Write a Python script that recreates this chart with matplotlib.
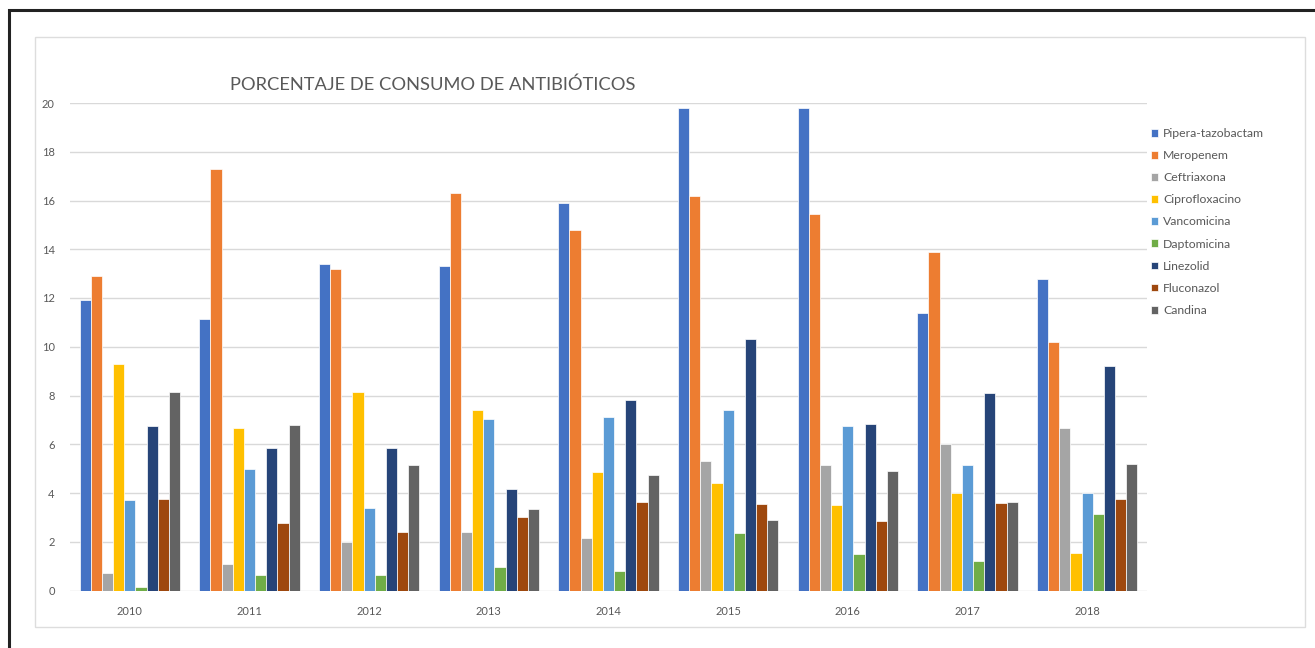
import numpy as np
import matplotlib.pyplot as plt
from matplotlib.patches import Rectangle

plt.rcParams['font.family'] = ['Lato', 'DejaVu Sans']

years = ['2010', '2011', '2012', '2013', '2014', '2015', '2016', '2017', '2018']
drugs = ['Pipera-tazobactam', 'Meropenem', 'Ceftriaxona', 'Ciprofloxacino',
         'Vancomicina', 'Daptomicina', 'Linezolid', 'Fluconazol', 'Candina']

pipera = [11.9, 11.15, 13.4, 13.3, 15.9, 19.8, 19.8, 11.4, 12.8]
meropenem = [12.9, 17.3, 13.2, 16.3, 14.8, 16.2, 15.45, 13.9, 10.2]
ceftriaxona = [0.7, 1.1, 2.0, 2.4, 2.15, 5.3, 5.15, 6.0, 6.65]
cipro = [9.3, 6.65, 8.15, 7.4, 4.85, 4.4, 3.5, 4.0, 1.55]
vanco = [3.7, 5.0, 3.4, 7.05, 7.1, 7.4, 6.75, 5.15, 4.0]
dapto = [0.15, 0.65, 0.65, 0.95, 0.8, 2.35, 1.5, 1.2, 3.15]
linezolid = [6.75, 5.85, 5.85, 4.15, 7.8, 10.3, 6.85, 8.1, 9.2]
fluconazol = [3.75, 2.75, 2.4, 3.0, 3.65, 3.55, 2.85, 3.6, 3.75]
candina = [8.15, 6.8, 5.15, 3.35, 4.75, 2.9, 4.9, 3.65, 5.2]

series = [pipera, meropenem, ceftriaxona, cipro, vanco, dapto, linezolid, fluconazol, candina]
colors = ['#4472C4', '#ED7D31', '#A5A5A5', '#FFC000', '#5B9BD5',
          '#70AD47', '#264478', '#9E480E', '#636363']

fig = plt.figure(figsize=(13.15, 6.48), dpi=100)

# outer dark frame and light chart-area border
fig.add_artist(Rectangle((9 / 1315, -0.1), 1.2, (648 - 10) / 648 + 0.1,
                         transform=fig.transFigure, fill=False,
                         edgecolor='#222222', linewidth=2.2))
fig.add_artist(Rectangle((35 / 1315, (648 - 627) / 648), 1270 / 1315, 590 / 648,
                         transform=fig.transFigure, fill=False,
                         edgecolor='#DDDDDD', linewidth=1.0))

ax = fig.add_axes([70 / 1315, (648 - 590.5) / 648, 1077 / 1315, 487.5 / 648])

x = np.arange(len(years))
n = len(series)
bw = 0.84 / n
for i, (vals, c, name) in enumerate(zip(series, colors, drugs)):
    ax.bar(x - 0.42 + bw * (i + 0.5), vals, width=bw, color=c,
           edgecolor='white', linewidth=0.5, label=name, zorder=3)

ax.set_xlim(-0.5, len(years) - 0.5)
ax.set_ylim(0, 20)
ax.set_yticks(np.arange(0, 21, 2))
ax.set_xticks(x)
ax.set_xticklabels(years)
ax.grid(axis='y', color='#D9D9D9', linewidth=1.0, zorder=0)
for s in ax.spines.values():
    s.set_visible(False)
ax.tick_params(axis='both', length=0, labelsize=8, colors='#595959')
ax.tick_params(axis='y', pad=11)
ax.tick_params(axis='x', pad=11)

fig.text(230 / 1315, (648 - 85) / 648, 'PORCENTAJE DE CONSUMO DE ANTIBIÓTICOS',
         fontsize=13.2, color='#595959', va='center', ha='left')

handles, labels = ax.get_legend_handles_labels()
fig.legend(handles, labels, loc='upper left',
           bbox_to_anchor=(1140 / 1315, (648 - 117) / 648),
           frameon=False, fontsize=8.8, handlelength=0.6, handleheight=0.6,
           handletextpad=0.4, labelspacing=0.91, labelcolor='#595959')

fig.savefig('out.png', dpi=100)
